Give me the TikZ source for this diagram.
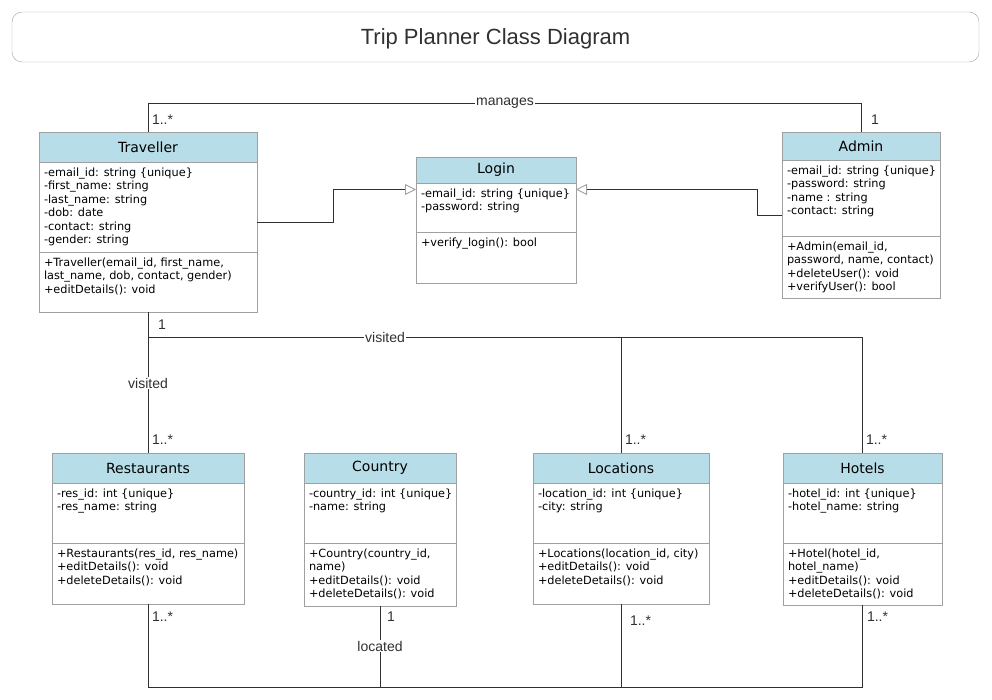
\documentclass[tikz,border=0pt]{standalone}
\usepackage{fontspec}
\setmainfont{DejaVu Sans}
\newfontfamily\lblfont{Liberation Sans}
\usetikzlibrary{positioning}
\usetikzlibrary{arrows.meta}
\definecolor{headblue}{HTML}{B7DDE8}
\definecolor{boxgray}{HTML}{A0A0A0}
\definecolor{linedark}{HTML}{303030}
\tikzset{%
  x=1pt,y=-1pt,
  outer sep=0pt,%
  head/.style={draw=boxgray,fill=headblue,inner sep=0pt,font=\fontsize{14}{16}\selectfont},%
  part/.style={draw=boxgray,fill=white,inner sep=0pt},%
  members/.style={anchor=north west,align=left,inner sep=0pt,xshift=5pt,yshift=-6pt,
    font=\fontsize{11.3}{13.4}\selectfont},%
  conn/.style={draw=linedark,line width=0.9pt},%
  gen/.style={conn,-{Triangle[open,length=11pt,width=11pt,color=boxgray]}},%
  lbl/.style={inner sep=1pt,text=linedark,font=\lblfont\fontsize{14}{15}\selectfont},%
  mult/.style={lbl,anchor=west}%
}

\begin{document}
\begin{tikzpicture}
\useasboundingbox (0,0) rectangle (992,700);

% title
\node[draw=boxgray,rounded corners=10pt,minimum width=967pt,minimum height=50pt,
  font=\lblfont\fontsize{22}{24}\selectfont,text=linedark] (title) at (495.5,37) {\raisebox{-8pt}[0pt][0pt]{Trip Planner Class Diagram}};

% Traveller
\node[head,minimum width=218pt,minimum height=30pt] (trav) at (148,147) {Traveller};
\node[part,minimum width=218pt,minimum height=90pt,below=0pt of trav] (trav-a) {};
\node[part,minimum width=218pt,minimum height=60pt,below=0pt of trav-a] (trav-m) {};
\node[members] at (trav-a.north west) {-email\_id: string \{unique\}\\-first\_name: string\\-last\_name: string\\-dob: date\\-contact: string\\-gender: string};
\node[members] at (trav-m.north west) {+Traveller(email\_id, first\_name,\\last\_name, dob, contact, gender)\\+editDetails(): void};

% Login
\node[head,minimum width=160pt,minimum height=26pt] (login) at (496,170) {Login};
\node[part,minimum width=160pt,minimum height=49pt,below=0pt of login] (login-a) {};
\node[part,minimum width=160pt,minimum height=51pt,below=0pt of login-a] (login-m) {};
\node[members] at (login-a.north west) {-email\_id: string \{unique\}\\-password: string};
\node[members] at (login-m.north west) {+verify\_login(): bool};

% Admin
\node[head,minimum width=158pt,minimum height=28pt] (adm) at (861,146) {Admin};
\node[part,minimum width=158pt,minimum height=76pt,below=0pt of adm] (adm-a) {};
\node[part,minimum width=158pt,minimum height=62pt,below=0pt of adm-a] (adm-m) {};
\node[members] at (adm-a.north west) {-email\_id: string \{unique\}\\-password: string\\-name : string\\-contact: string};
\node[members] at (adm-m.north west) {+Admin(email\_id,\\password, name, contact)\\+deleteUser(): void\\+verifyUser(): bool};

% Restaurants
\node[head,minimum width=192pt,minimum height=30pt] (rest) at (148,468) {Restaurants};
\node[part,minimum width=192pt,minimum height=60pt,below=0pt of rest] (rest-a) {};
\node[part,minimum width=192pt,minimum height=61pt,below=0pt of rest-a] (rest-m) {};
\node[members] at (rest-a.north west) {-res\_id: int \{unique\}\\-res\_name: string};
\node[members] at (rest-m.north west) {+Restaurants(res\_id, res\_name)\\+editDetails(): void\\+deleteDetails(): void};

% Country
\node[head,minimum width=152pt,minimum height=30pt] (ctry) at (380,468) {Country};
\node[part,minimum width=152pt,minimum height=60pt,below=0pt of ctry] (ctry-a) {};
\node[part,minimum width=152pt,minimum height=63pt,below=0pt of ctry-a] (ctry-m) {};
\node[members] at (ctry-a.north west) {-country\_id: int \{unique\}\\-name: string};
\node[members] at (ctry-m.north west) {+Country(country\_id,\\name)\\+editDetails(): void\\+deleteDetails(): void};

% Locations
\node[head,minimum width=176pt,minimum height=30pt] (loc) at (621,468) {Locations};
\node[part,minimum width=176pt,minimum height=60pt,below=0pt of loc] (loc-a) {};
\node[part,minimum width=176pt,minimum height=61pt,below=0pt of loc-a] (loc-m) {};
\node[members] at (loc-a.north west) {-location\_id: int \{unique\}\\-city: string};
\node[members] at (loc-m.north west) {+Locations(location\_id, city)\\+editDetails(): void\\+deleteDetails(): void};

% Hotels
\node[head,minimum width=159pt,minimum height=30pt] (hot) at (862.5,468) {Hotels};
\node[part,minimum width=159pt,minimum height=60pt,below=0pt of hot] (hot-a) {};
\node[part,minimum width=159pt,minimum height=62pt,below=0pt of hot-a] (hot-m) {};
\node[members] at (hot-a.north west) {-hotel\_id: int \{unique\}\\-hotel\_name: string};
\node[members] at (hot-m.north west) {+Hotel(hotel\_id,\\hotel\_name)\\+editDetails(): void\\+deleteDetails(): void};

% manages
\draw[conn] (trav.north) -- (trav.north |- 0,103) -| (adm.north);
\node[lbl,fill=white] (manages) at (505,103) {manages};
\node[mult] at (151,120) {1..*};
\node[mult] at (870,120) {1};

% generalisation to Login
\draw[gen] ([yshift=-15pt]trav-a.east) -- ++(76,0) |- ([yshift=18pt]login-a.west);
\draw[gen] ([yshift=-17pt]adm-a.west) -- ++(-25,0) |- ([yshift=18pt]login-a.east);

% visited
\draw[conn] (trav-m.south) -- (rest.north);
\draw[conn] (trav-m.south |- 0,337) -| (loc.north);
\draw[conn] (loc.north |- 0,337) -| (hot.north);
\node[lbl,fill=white] (visit1) at (148,383) {visited};
\node[lbl,fill=white] (visit2) at (385,337) {visited};
\node[mult] at (157,325) {1};
\node[mult] at (151,440) {1..*};
\node[mult] at (624,440) {1..*};
\node[mult] at (865,440) {1..*};

% located
\draw[conn] (rest-m.south) |- (hot-m.south |- 0,687) -- (hot-m.south);
\draw[conn] (ctry-m.south) -- (ctry-m.south |- 0,687);
\draw[conn] (loc-m.south) -- (loc-m.south |- 0,687);
\node[lbl,fill=white] (located) at (380,646) {located};
\node[mult] at (151,617) {1..*};
\node[mult] at (386,617) {1};
\node[mult] at (629,621) {1..*};
\node[mult] at (866,617) {1..*};
\end{tikzpicture}
\end{document}
